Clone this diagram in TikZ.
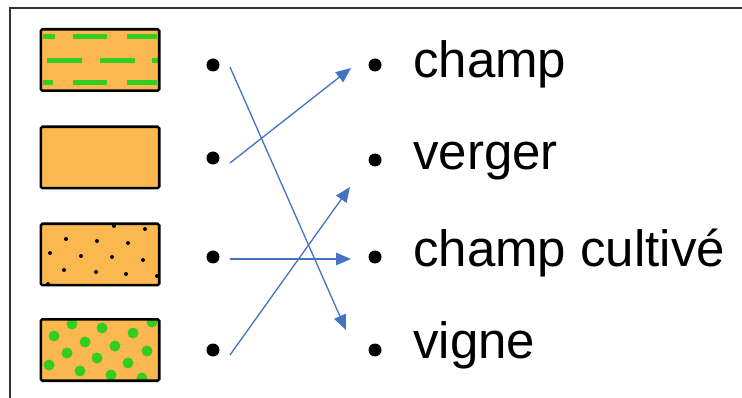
\documentclass[tikz,border=0pt]{standalone}
\usepackage{fontspec}
\setmainfont{Liberation Sans}
\usetikzlibrary{arrows.meta}
\definecolor{orangefill}{HTML}{FBB84E}
\definecolor{greenpat}{HTML}{33CC22}
\definecolor{arrowblue}{HTML}{4472C4}
\definecolor{framegray}{HTML}{333333}
\begin{document}
\begin{tikzpicture}[x=1pt,y=-1pt,
  legendbox/.style={fill=orangefill,rounded corners=1.5pt,minimum width=118pt,minimum height=61pt,inner sep=0pt},
  boxborder/.style={draw=black,line width=2.6pt,rounded corners=1.5pt},
  blackdot/.style={circle,fill=black,minimum size=13pt,inner sep=0pt},
  label/.style={anchor=base west,inner sep=0pt,font=\fontsize{51}{54}\selectfont},
  link/.style={draw=arrowblue,line width=1.3pt,-{Triangle[length=15pt,width=12.5pt]}}]
\useasboundingbox (0,0) rectangle (742,398);
\fill[white] (0,0) rectangle (742,398);
% frame
\draw[framegray,line width=2pt] (10,400) -- (10,8) -- (744,8);
% legend boxes
\node[legendbox] (b1) at (100,60) {};
\node[legendbox] (b2) at (100,157.5) {};
\node[legendbox] (b3) at (100,254.5) {};
\node[legendbox] (b4) at (100,350) {};
% pattern box 1: green dashes
\begin{scope}
\clip (b1.north west) rectangle (b1.south east);
\foreach \a/\b/\y in {43/55/37,73/107/37,127/157/37,47/82/61,100/135/61,152/160/61,43/53/83,73/107/83,127/157/83}
  \draw[greenpat,line width=5pt] (\a,\y) -- (\b,\y);
\end{scope}
% pattern box 3: black dots
\begin{scope}
\clip (b3.north west) rectangle (b3.south east);
\foreach \x/\y in {114/226,145/229,66/239,97/241,128/243,50/253,81/256,112/257,143/260,64/270,96/272,126/274,157/276,48/284}
  \fill[black] (\x,\y) circle (2pt);
\end{scope}
% pattern box 4: green dots
\begin{scope}
\clip (b4.north west) rectangle (b4.south east);
\foreach \x/\y in {72/324,102/328,133/333,152/322,54/336,85/342,115/346,147/351,67/353,97/358,128/363,49/365,80/371,111/375,142/378}
  \fill[greenpat] (\x,\y) circle (5.5pt);
\end{scope}
% borders
\foreach \b in {b1,b2,b3,b4}
  \draw[boxborder] (\b.north west) rectangle (\b.south east);
% left dots
\node[blackdot] (l1) at (213,65) {};
\node[blackdot] (l2) at (213,158) {};
\node[blackdot] (l3) at (213,257) {};
\node[blackdot] (l4) at (213,350) {};
% right dots
\node[blackdot] (r1) at (375,65) {};
\node[blackdot] (r2) at (375,160) {};
\node[blackdot] (r3) at (375,257) {};
\node[blackdot] (r4) at (375,350) {};
% labels
\node[label] (t1) at (413,78) {champ};
\node[label] (t2) at (413,170) {verger};
\node[label] (t3) at (413,267) {champ cultivé};
\node[label] (t4) at (413,358) {vigne};
% connector ends
\coordinate (s1) at (230,67);
\coordinate (s2) at (230,163);
\coordinate (s3) at (230,259);
\coordinate (s4) at (230,355);
\coordinate (e1) at (346,330);
\coordinate (e2) at (351,68);
\coordinate (e3) at (351,259);
\coordinate (e4) at (350,187);
\draw[link] (s1) -- (e1);
\draw[link] (s2) -- (e2);
\draw[link] (s3) -- (e3);
\draw[link] (s4) -- (e4);
\end{tikzpicture}
\end{document}
